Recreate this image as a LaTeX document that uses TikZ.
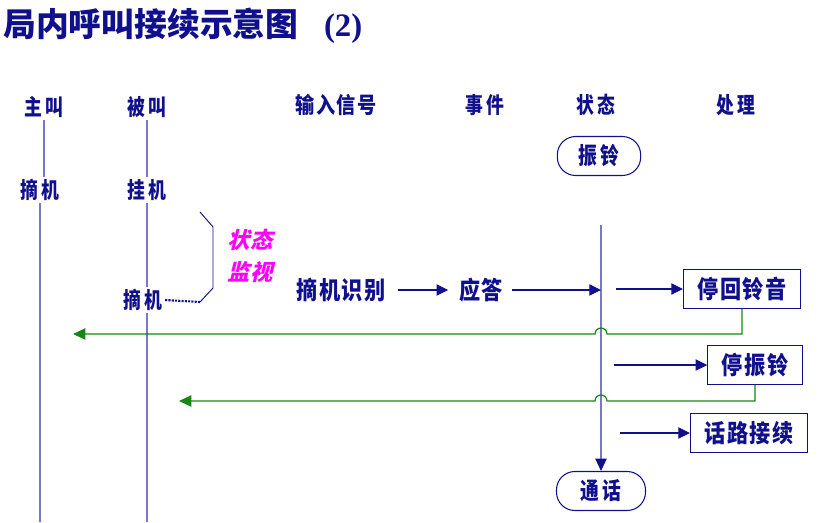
\documentclass[tikz,border=0pt]{standalone}
\usepackage{fontspec}
\setmainfont{Liberation Serif}
\newfontfamily\cjk{Noto Sans CJK SC}
\newfontfamily\cjknarrow[FakeStretch=0.86, LetterSpace=6]{Noto Sans CJK SC}
\newfontfamily\cjkhead[FakeStretch=0.8, LetterSpace=16]{Noto Sans CJK SC}
\newfontfamily\cjkslant[FakeSlant=0.25]{Noto Sans CJK SC}
\usetikzlibrary{positioning,arrows.meta}
\definecolor{navy}{RGB}{16,16,140}
\definecolor{lifeblue}{RGB}{120,120,200}
\definecolor{backgreen}{RGB}{20,135,20}
\definecolor{monitor}{RGB}{255,0,255}

\begin{document}
\begin{tikzpicture}[x=0.03cm, y=-0.03cm, inner sep=2pt,
  head/.style={font=\cjkhead\bfseries\fontsize{19}{22}\selectfont, text=navy},
  lbl/.style={font=\cjknarrow\bfseries\fontsize{21}{24}\selectfont, text=navy},
  box/.style={lbl, draw=navy, line width=0.9pt, minimum height=1.17cm, inner xsep=0.42cm},
  statebox/.style={head, font=\cjkhead\bfseries\fontsize{20}{22}\selectfont, draw=navy,
    line width=0.9pt, rounded corners=0.55cm, minimum width=2.5cm, minimum height=1.17cm},
  life/.style={draw=lifeblue, line width=1.1pt},
  arr/.style={draw=navy, line width=0.9pt, -{Triangle[length=0.35cm,width=0.34cm]}},
  back/.style={draw=backgreen, line width=1pt, -{Triangle[length=0.37cm,width=0.34cm]}}]
  \useasboundingbox (0,0) rectangle (825,522);
  \coordinate (bottom) at (0,522);

  \node[anchor=west, text=navy, inner sep=0pt] (title) at (3,26)
    {\cjk\bfseries\fontsize{28}{30}\selectfont 局内呼叫接续示意图\hspace{0.78em}{\rmfamily\bfseries(2)}};

  \node[head] (zhujiao) at (44,107) {主叫};
  \node[head] (beijiao) at (147,107) {被叫};
  \node[head, font=\cjknarrow\bfseries\fontsize{19}{22}\selectfont] (input) at (336,105) {输入信号};
  \node[head] (event) at (485,105) {事件};
  \node[head] (statehead) at (596,105) {状态};
  \node[head] (proc) at (736,105) {处理};

  \node[head] (zj) at (40,190) {摘机};
  \node[head] (gj) at (147,190) {挂机};
  \node[head] (gj2) at (143,300) {摘机};

  \draw[life] (zhujiao.south) -- (zhujiao.south |- zj.north);
  \draw[life] (zj.south) -- (zj.south |- bottom);
  \draw[life] (beijiao.south) -- (beijiao.south |- gj.north);
  \draw[life] (gj.south) -- (gj.south |- gj2.north);
  \draw[life] (gj.south |- gj2.south) -- (gj.south |- bottom);

  \coordinate (br1) at (200,302);
  \draw[navy, densely dotted, line width=1.8pt] (gj2.east) -- (br1);
  \draw[navy, line width=0.8pt] (br1) -- ++(13,-14) -- ++(0,-61) -- ++(-13,-15);
  \node[font=\cjkslant\bfseries\fontsize{19}{27}\selectfont, text=monitor, align=center]
    (jk) at (250,256) {状态\\监视};

  \node[statebox] (zhenling) at (599,156) {振铃};
  \node[statebox, minimum width=2.67cm] (tonghua) at (601,491) {通话};
  \coordinate (st) at (601,225);
  \draw[life, -{Triangle[length=0.37cm,width=0.34cm,color=navy]}] (st) -- (tonghua.north);

  \node[lbl] (sig) at (341,290) {摘机识别};
  \node[lbl] (ans) at (481,290) {应答};
  \coordinate (s1) at (601,290);
  \path
    (sig) edge[arr, shorten <=0.3cm, shorten >=0.25cm] (ans)
    (ans) edge[arr, shorten <=0.2cm] (s1);

  \node[box] (hui) at (742,289) {停回铃音};
  \node[box] (zhen) at (755,365) {停振铃};
  \node[box] (hl) at (749,433) {话路接续};
  \coordinate (p1) at (616,289);
  \coordinate (p2) at (614,365);
  \coordinate (p3) at (620,433);
  \path
    (p1) edge[arr] (hui)
    (p2) edge[arr] (zhen)
    (p3) edge[arr] (hl);

  \coordinate (j1) at (607,334);
  \coordinate (g1) at (73,334);
  \coordinate (j2) at (607,401);
  \coordinate (g2) at (179,401);
  \draw[back] (hui.south) |- (j1) arc[start angle=0, end angle=180, radius=0.18cm] -- (g1);
  \draw[back] (zhen.south) |- (j2) arc[start angle=0, end angle=180, radius=0.18cm] -- (g2);
\end{tikzpicture}
\end{document}
